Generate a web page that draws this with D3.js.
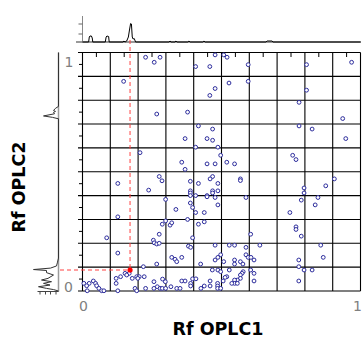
<!DOCTYPE html>
<html><head><meta charset="utf-8">
<script src="https://cdn.jsdelivr.net/npm/d3@7"></script>
<style>html,body{margin:0;padding:0;background:#fff;} svg{display:block}</style>
</head><body><svg id="c" width="363" height="338"></svg>
<script>
// ---- data ----
const rf1 = [
0.227,0.258,0.279,0.148,0.267,0.378,0.407,0.458,0.477,0.508,
0.520,0.596,0.527,0.596,0.477,0.458,0.806,0.806,0.779,0.968,
0.936,0.417,0.468,0.779,0.826,0.369,0.448,0.468,0.947,0.407,
0.487,0.497,0.756,0.768,0.357,0.369,0.448,0.477,0.519,0.547,
0.468,0.459,0.568,0.568,0.906,0.388,0.417,0.487,0.875,0.388,
0.388,0.388,0.468,0.468,0.487,0.407,0.448,0.448,0.477,0.588,
0.797,0.797,0.847,0.787,0.388,0.396,0.487,0.837,0.407,0.438,
0.746,0.207,0.127,0.276,0.286,0.238,0.299,0.336,0.127,0.378,
0.087,0.127,0.287,0.299,0.315,0.321,0.276,0.255,0.258,0.267,
0.276,0.321,0.333,0.339,0.267,0.219,0.153,0.168,0.159,0.137,
0.121,0.179,0.195,0.204,0.222,0.199,0.288,0.298,0.257,0.121,
0.005,0.024,0.015,0.017,0.039,0.047,0.051,0.059,0.069,0.077,
0.127,0.189,0.195,0.227,0.257,0.269,0.279,0.287,0.299,0.318,
0.339,0.417,0.438,0.396,0.605,0.768,0.768,0.787,0.381,0.389,
0.477,0.528,0.547,0.588,0.638,0.857,0.866,0.357,0.497,0.487,
0.477,0.588,0.596,0.606,0.617,0.508,0.547,0.547,0.568,0.577,
0.425,0.778,0.778,0.467,0.487,0.497,0.528,0.605,0.797,0.826,
0.578,0.574,0.568,0.617,0.519,0.513,0.568,0.557,0.547,0.547,
0.357,0.369,0.396,0.408,0.459,0.617,0.506,0.778,0.389,0.389,
0.486,0.486,0.537,0.557,0.459,0.438,0.426,0.486,0.497,0.351];
const rf2 = [
0.980,0.959,0.980,0.879,0.742,0.750,0.941,0.941,0.990,0.990,
0.980,0.949,0.872,0.879,0.849,0.820,0.949,0.842,0.791,0.959,
0.723,0.692,0.679,0.692,0.679,0.639,0.639,0.632,0.639,0.603,
0.603,0.569,0.569,0.551,0.540,0.510,0.533,0.533,0.540,0.533,
0.480,0.470,0.470,0.463,0.470,0.460,0.451,0.451,0.441,0.420,
0.411,0.400,0.420,0.411,0.420,0.400,0.400,0.395,0.392,0.392,
0.432,0.411,0.392,0.381,0.369,0.350,0.361,0.361,0.329,0.329,
0.329,0.580,0.451,0.480,0.462,0.423,0.384,0.342,0.311,0.300,
0.223,0.159,0.280,0.294,0.276,0.286,0.238,0.213,0.202,0.197,
0.200,0.141,0.133,0.123,0.113,0.102,0.074,0.074,0.067,0.060,
0.053,0.053,0.060,0.060,0.060,0.053,0.050,0.039,0.039,0.032,
0.032,0.032,0.022,0.001,0.042,0.032,0.022,0.011,0.001,0.001,
0.001,0.011,0.001,0.011,0.011,0.018,0.011,0.011,0.011,0.018,
0.011,0.280,0.290,0.223,0.238,0.269,0.258,0.230,0.188,0.183,
0.192,0.192,0.192,0.183,0.192,0.192,0.141,0.141,0.152,0.141,
0.130,0.152,0.141,0.141,0.130,0.123,0.130,0.113,0.123,0.113,
0.113,0.130,0.102,0.088,0.088,0.081,0.088,0.088,0.088,0.088,
0.081,0.074,0.067,0.074,0.060,0.057,0.053,0.046,0.046,0.032,
0.042,0.042,0.051,0.051,0.042,0.042,0.042,0.042,0.032,0.021,
0.032,0.021,0.032,0.032,0.021,0.021,0.011,0.011,0.011,0.011];
const selectedRf1 = 0.171, selectedRf2 = 0.088;

// densitometric profiles (top: along Rf OPLC1, left: along Rf OPLC2)
const topRf  = [0,0.022,0.0245,0.027,0.032,0.035,0.037,0.082,0.085,0.088,0.094,0.096,0.146,0.149,0.153,0.159,0.165,0.169,0.173,0.176,0.179,0.182,0.186,0.191,0.311,0.315,0.318,0.333,0.336,0.340,0.379,0.383,0.387,0.433,0.437,0.441,0.660,0.664,0.682,0.685,1.0];
const topVal = [0,0,5,6,6,4,0,0,5,6,5.5,0,0,1,0,1,5,12,18.5,18,5,3,3.5,0,0,1,0,0,1,0,0,1,0,0,1,0,0,1,1,0,0];
const leftRf  = [0,0.006,0.011,0.018,0.025,0.032,0.039,0.046,0.053,0.067,0.077,0.086,0.090,0.096,0.105,0.121,0.138,0.722,0.728,0.734,0.743,0.749,0.753,0.757,0.766,0.774,1.0];
const leftVal = [0,5,12,20,8.5,15,7,17,10.5,5,12,12,25,8,2,1,0,0,6,15,4,5,3,5,3,0,0];

const gridValues = [0,0.1,0.2,0.3,0.4,0.5,0.6,0.7,0.8,0.9,1];
const minorValues = [0.05,0.15,0.25,0.35,0.45,0.55,0.65,0.75,0.85,0.95];
const axisLabels = ["0","1"];
const topTicks = [8,18];
const leftTicks = [2.5,8,13,18.5];

// ---- drawing ----
const svg = d3.select('#c');
const x = d3.scaleLinear().domain([0,1]).range([82.5,360.5]);
const y = d3.scaleLinear().domain([0,1]).range([291,52.5]);
const ty = d3.scaleLinear().domain([0,26]).range([42,16]);
const lx = d3.scaleLinear().domain([0,25]).range([58.5,33.5]);

// grid
svg.append('g').selectAll('line').data(gridValues).join('line')
  .attr('x1',78).attr('x2',x(1)).attr('y1',d=>y(d)).attr('y2',d=>y(d))
  .attr('stroke','#000').attr('stroke-width',1.1);
svg.append('g').selectAll('line').data(gridValues).join('line')
  .attr('x1',d=>x(d)).attr('x2',d=>x(d)).attr('y1',y(1)).attr('y2',y(0))
  .attr('stroke','#000').attr('stroke-width',1.1);
// minor ticks
svg.append('g').selectAll('line').data(minorValues).join('line')
  .attr('x1',d=>x(d)).attr('x2',d=>x(d)).attr('y1',y(1)).attr('y2',y(1)+4.5)
  .attr('stroke','#000');
svg.append('g').selectAll('line').data(minorValues).join('line')
  .attr('x1',x(0)-3.5).attr('x2',x(0)).attr('y1',d=>y(d)).attr('y2',d=>y(d))
  .attr('stroke','#000');

// top profile
svg.append('line').attr('x1',76).attr('x2',361).attr('y1',ty(0)).attr('y2',ty(0))
  .attr('stroke','#999').attr('stroke-width',2);
svg.append('line').attr('x1',x(0)).attr('x2',x(0)).attr('y1',ty(26)).attr('y2',ty(0))
  .attr('stroke','#888');
svg.append('g').selectAll('line').data(topTicks).join('line')
  .attr('x1',x(0)-4).attr('x2',x(0)).attr('y1',d=>ty(d)).attr('y2',d=>ty(d)).attr('stroke','#666');
svg.append('path').datum(topRf.map((r,i)=>[r,topVal[i]]))
  .attr('d', d3.line().x(d=>x(d[0])).y(d=>ty(d[1])))
  .attr('fill','none').attr('stroke','#000').attr('stroke-width',1);

// left profile
svg.append('line').attr('x1',lx(0)).attr('x2',lx(0)).attr('y1',y(1)).attr('y2',y(0)+0.5)
  .attr('stroke','#999').attr('stroke-width',1.5);
svg.append('line').attr('x1',37.5).attr('x2',lx(0)).attr('y1',y(0)+0.5).attr('y2',y(0)+0.5)
  .attr('stroke','#444');
svg.append('g').selectAll('line').data(leftTicks).join('line')
  .attr('x1',d=>lx(d)).attr('x2',d=>lx(d)).attr('y1',y(0)+0.5).attr('y2',y(0)+3.5).attr('stroke','#444');
svg.append('path').datum(leftRf.map((r,i)=>[r,leftVal[i]]))
  .attr('d', d3.line().x(d=>lx(d[1])).y(d=>y(d[0])))
  .attr('fill','none').attr('stroke','#333').attr('stroke-width',1);

// selection crosshair
svg.append('line').attr('x1',x(selectedRf1)).attr('x2',x(selectedRf1)).attr('y1',40).attr('y2',y(selectedRf2))
  .attr('stroke','#ff4040').attr('stroke-dasharray','4,3');
svg.append('line').attr('x1',60).attr('x2',x(selectedRf1)).attr('y1',y(selectedRf2)).attr('y2',y(selectedRf2))
  .attr('stroke','#ff4040').attr('stroke-dasharray','4,3');

// points
svg.append('g').selectAll('circle').data(rf1.map((v,i)=>[v,rf2[i]])).join('circle')
  .attr('cx',d=>x(d[0])).attr('cy',d=>y(d[1])).attr('r',1.9)
  .attr('fill','#fff').attr('stroke','#2c2c9c').attr('stroke-width',1);
svg.append('circle').attr('cx',x(selectedRf1)).attr('cy',y(selectedRf2)).attr('r',2.6).attr('fill','#ff0000');

// tick labels
const lab = {fontFamily:'DejaVu Sans', size:'14px', fill:'#808080'};
svg.append('text').text(axisLabels[0]).attr('x',83.5).attr('y',311).attr('text-anchor','middle')
  .attr('font-family',lab.fontFamily).attr('font-size',lab.size).attr('fill',lab.fill);
svg.append('text').text(axisLabels[1]).attr('x',362).attr('y',311).attr('text-anchor','end')
  .attr('font-family',lab.fontFamily).attr('font-size',lab.size).attr('fill',lab.fill);
svg.append('text').text(axisLabels[0]).attr('x',68.5).attr('y',292).attr('text-anchor','middle')
  .attr('font-family',lab.fontFamily).attr('font-size',lab.size).attr('fill',lab.fill);
svg.append('text').text(axisLabels[1]).attr('x',69).attr('y',67).attr('text-anchor','middle')
  .attr('font-family',lab.fontFamily).attr('font-size',lab.size).attr('fill',lab.fill);

// titles
svg.append('text').text('Rf OPLC1').attr('x',218).attr('y',335).attr('text-anchor','middle')
  .attr('font-family','DejaVu Sans').attr('font-weight','bold').attr('font-size','17.5px').attr('fill','#000');
svg.append('text').text('Rf OPLC2').attr('transform','translate(25,187) rotate(-90)').attr('text-anchor','middle')
  .attr('font-family','DejaVu Sans').attr('font-weight','bold').attr('font-size','17.5px').attr('fill','#000');
</script></body></html>
